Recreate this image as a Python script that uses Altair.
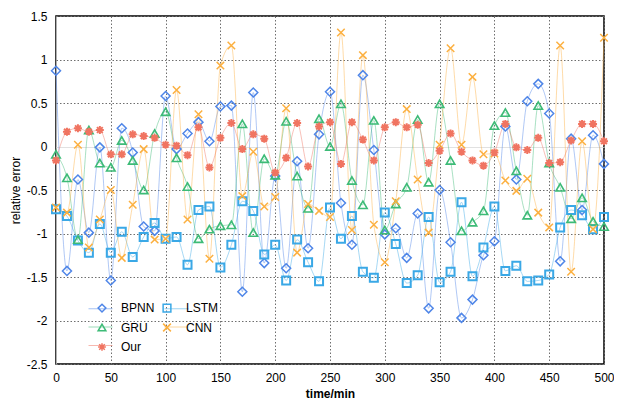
import altair as alt
import pandas as pd

times = list(range(0, 501, 10))

bpnn = [0.87, -1.43, -0.38, -0.99, -0.01, -1.54, 0.21, -0.07, -0.92, -0.97,
        0.58, -0.03, 0.15, 0.28, 0.06, 0.46, 0.47, -1.67, 0.62, -1.34,
        -0.34, -1.40, -0.17, -1.17, 0.14, 0.63, -0.65, -1.13, 0.82, -0.04,
        -1.01, -0.94, -1.28, -0.77, -1.86, -0.50, -1.10, -1.97, -1.76, -1.25,
        -1.09, 0.23, -0.38, 0.52, 0.72, 0.38, -1.32, 0.09, -0.73, 0.13, -0.20]

lstm = [-0.72, -0.80, -1.08, -1.22, -0.89, -1.22, -0.98, -1.27, -1.04, -0.88,
        -1.06, -1.04, -1.36, -0.73, -0.69, -1.39, -1.13, -0.63, -0.74, -1.24,
        -1.13, -1.54, -1.07, -1.33, -1.55, -0.70, -1.06, -0.80, -1.44, -1.51,
        -0.76, -1.12, -1.57, -1.48, -0.81, -1.56, -1.44, -0.64, -1.49, -1.16,
        -0.69, -1.43, -1.37, -1.55, -1.54, -1.47, -0.93, -0.73, -0.79, -0.95, -0.81]

gru = [-0.09, -0.36, -1.07, 0.19, -0.19, -0.24, 0.07, -0.16, -0.50, 0.15,
       0.40, -0.13, -0.46, -1.06, -0.95, -0.91, -0.90, 0.26, -0.99, -0.14,
       -0.33, 0.29, -0.34, -0.71, 0.32, 0.00, 0.49, -0.39, -0.67, 0.30,
       -0.96, -0.66, -0.47, 0.31, -0.41, 0.49, -0.16, -0.97, -0.87, -0.74,
       0.24, 0.39, -0.28, -0.79, 0.47, -0.19, -0.47, -0.83, -0.59, -0.86, -0.92]

cnn = [-0.70, -0.76, 0.02, -1.16, -0.84, -0.50, -1.28, -0.67, -0.03, -1.07,
       -1.06, 0.65, -0.84, 0.37, -1.29, 0.93, 1.16, -0.57, -0.06, -0.69,
       -0.58, 0.44, -1.22, -0.66, -0.74, -0.81, 1.31, -0.96, 1.05, -0.90,
       -1.33, -0.63, 0.43, -0.38, -0.99, 0.02, 1.13, 0.02, 0.80, -0.09,
       -0.08, -0.39, -0.51, -0.37, -0.76, -0.93, 1.16, -1.44, 0.06, -0.95, 1.25]

our = [-0.16, 0.17, 0.21, 0.17, 0.19, -0.09, -0.09, 0.14, 0.12, 0.10,
       0.02, 0.01, -0.10, 0.22, -0.24, 0.10, 0.27, -0.03, 0.14, 0.09,
       -0.30, -0.13, 0.27, -0.23, 0.23, 0.28, -0.20, 0.28, 0.08, -0.16,
       0.22, 0.28, 0.22, 0.25, -0.19, -0.05, 0.15, -0.06, -0.16, -0.22,
       -0.07, 0.26, -0.01, -0.04, 0.10, -0.19, -0.18, 0.07, 0.26, 0.26, 0.06]

models = ["BPNN", "LSTM", "GRU", "CNN", "Our"]
series = [bpnn, lstm, gru, cnn, our]
colors = ["#4f86e8", "#3aa8e6", "#3dbb77", "#fcb040", "#f07461"]
asterisk = "M-1,0L1,0M0,-1L0,1M-0.72,-0.72L0.72,0.72M-0.72,0.72L0.72,-0.72"
xmark = "M-1,-1L1,1M-1,1L1,-1"
shapes = ["diamond", "square", "triangle-up", xmark, asterisk]
sizes = [81, 64, 72, 56, 64]
widths = [1.5, 2.0, 1.6, 1.5, 2.0]

x_ticks = list(range(0, 501, 50))
y_ticks = [-2.5, -2, -1.5, -1, -0.5, 0, 0.5, 1, 1.5]

marker_keys = [m + "_m" for m in models]
rows = []
for name, key, vals in zip(models, marker_keys, series):
    for t, v in zip(times, vals):
        rows.append({"t": t, "v": v, "model": name, "marker": key})
df = pd.DataFrame(rows)

FONT = "Liberation Sans"
xscale = alt.Scale(domain=[0, 500], nice=False)
yscale = alt.Scale(domain=[-2.5, 1.5], nice=False)

grid_color = {"condition": {"test": "datum.value === 0", "value": "#d6d6d6"}, "value": "#6e6e6e"}
grid_dash = {"condition": {"test": "datum.value === 0", "value": [1, 0]}, "value": [1.5, 2]}

xaxis = alt.Axis(values=x_ticks, title="time/min", titleFontWeight="bold", titleFontSize=12,
                 titleFont=FONT, titleColor="black", titlePadding=5,
                 labelFont=FONT, labelFontSize=12, labelColor="black", labelPadding=8,
                 labelFlush=False, labelOverlap=False,
                 ticks=False, domain=False, grid=True, gridColor=grid_color, gridDash=grid_dash,
                 gridWidth=1, labelExpr="datum.value + ''")
yaxis = alt.Axis(values=y_ticks, title="relative error", titleFontWeight="normal", titleFontSize=12,
                 titleFont=FONT, titleColor="black", titlePadding=4,
                 labelFont=FONT, labelFontSize=12, labelColor="black", labelPadding=9,
                 labelFlush=False, labelOverlap=False,
                 ticks=False, domain=False, grid=True, gridColor=grid_color, gridDash=grid_dash,
                 gridWidth=1, labelExpr="datum.value + ''")

# legend: line part (no text) and marker part (with text) overlaid
line_legend = alt.Legend(title=None, orient="none", legendX=38, legendY=286, columns=2,
                         direction="horizontal",
                         symbolType="M-2,0L2,0", symbolSize=144, symbolStrokeWidth=1,
                         symbolOpacity=0.5, labelOffset=0, labelFontSize=12, labelFont=FONT,
                         labelExpr="''",
                         columnPadding=47, rowPadding=5.5, padding=0)
shape_legend = alt.Legend(title=None, orient="none", legendX=40, legendY=286, columns=2,
                          direction="horizontal",
                          symbolSize=60, symbolStrokeWidth=1.5, labelOffset=13,
                          labelFontSize=12, labelFont=FONT, labelColor="black",
                          labelExpr="replace(datum.label, '_m', '')",
                          symbolFillColor="transparent",
                          columnPadding=5, rowPadding=5.5, padding=0)

lines = alt.Chart(df).mark_line(interpolate="monotone", strokeWidth=1, opacity=0.45).encode(
    x=alt.X("t:Q", scale=xscale, axis=xaxis),
    y=alt.Y("v:Q", scale=yscale, axis=yaxis),
    color=alt.Color("model:N", scale=alt.Scale(domain=models, range=colors), legend=line_legend),
)

layers = [lines]
for key, sz, sw in zip(marker_keys, sizes, widths):
    pts = alt.Chart(df).transform_filter(alt.datum.marker == key).mark_point(
        filled=False, size=sz, strokeWidth=sw, opacity=1
    ).encode(
        x=alt.X("t:Q", scale=xscale, axis=xaxis),
        y=alt.Y("v:Q", scale=yscale, axis=yaxis),
        shape=alt.Shape("marker:N", scale=alt.Scale(domain=marker_keys, range=shapes), legend=shape_legend),
        stroke=alt.Stroke("marker:N", scale=alt.Scale(domain=marker_keys, range=colors), legend=shape_legend),
    )
    layers.append(pts)

chart = alt.layer(*layers).properties(
    width=548, height=348,
    background="white",
    autosize=alt.AutoSizeParams(type="none"),
    padding={"left": 48, "top": 8, "right": 10, "bottom": 36},
).configure_view(stroke="black", strokeWidth=1.5)

chart.save("out.html", embed_options={"renderer": "svg", "actions": False})
